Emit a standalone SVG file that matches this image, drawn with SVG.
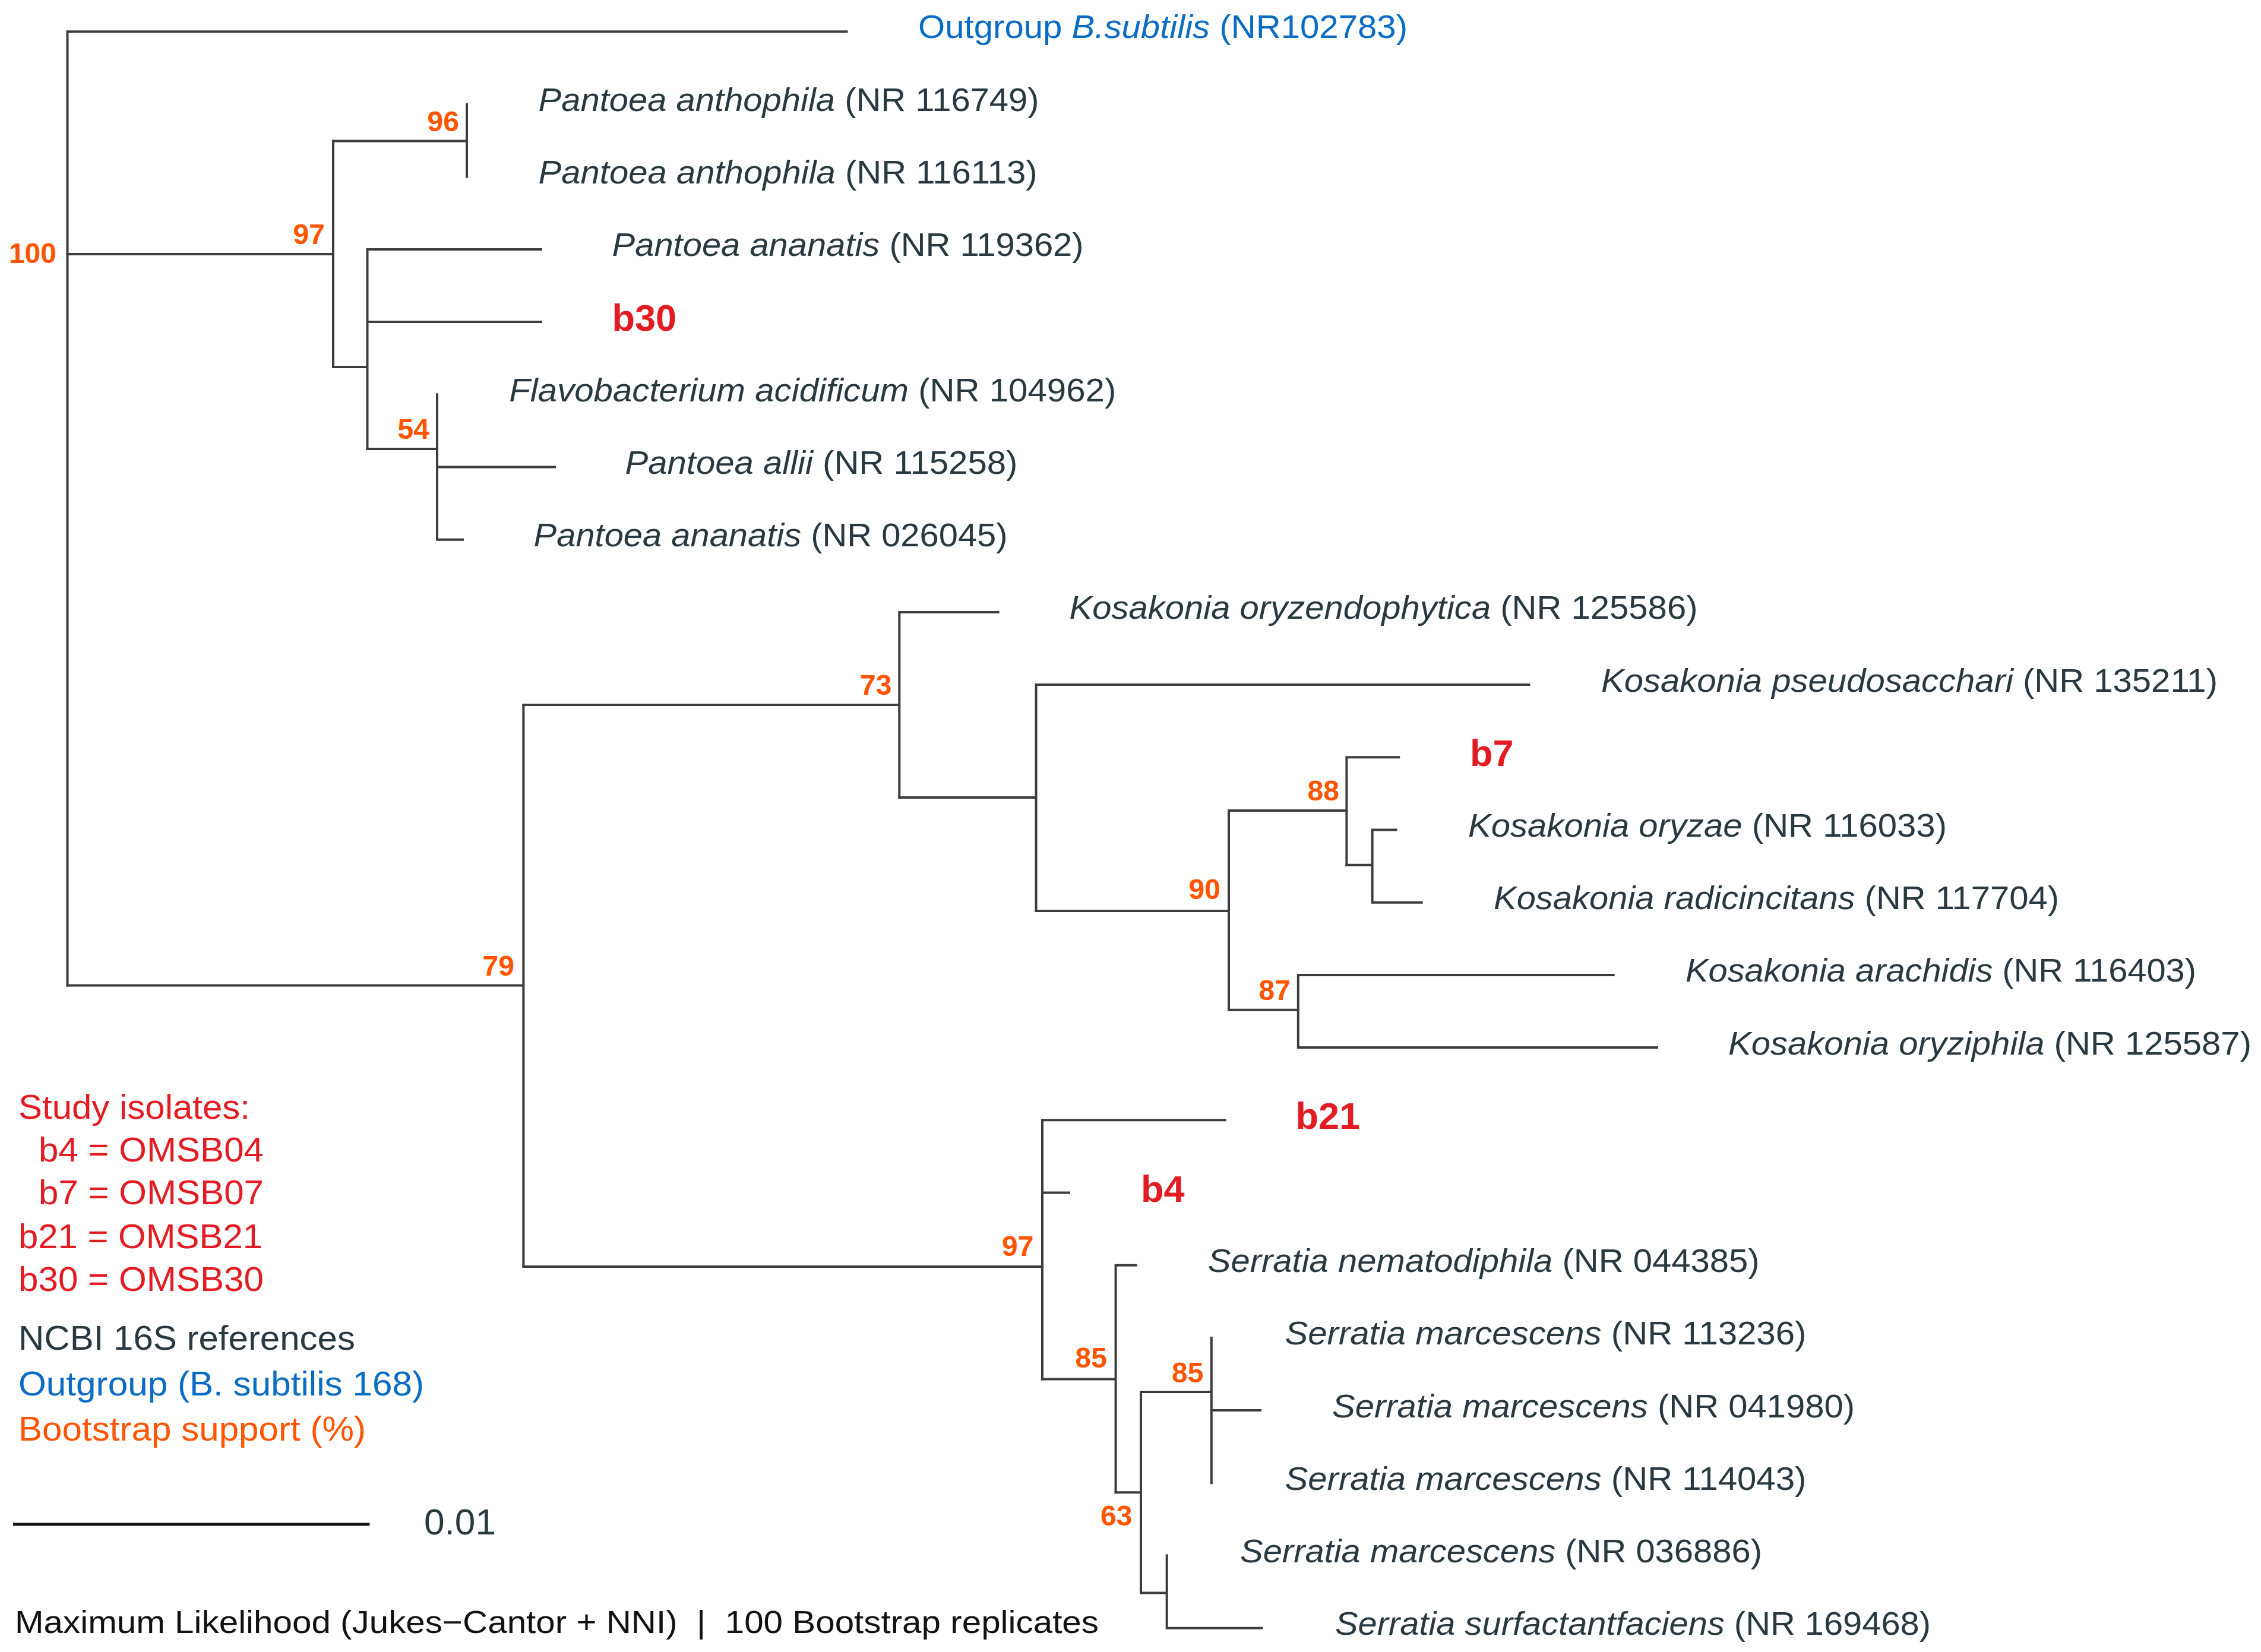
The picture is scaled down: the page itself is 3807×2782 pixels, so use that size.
<svg xmlns="http://www.w3.org/2000/svg" width="3807" height="2782" viewBox="0 0 3807 2782">
<style>
text{font-family:"Liberation Sans",Arial,Helvetica,sans-serif}
.lab{font-size:55px;fill:#29393f}
.it{font-style:italic}
.iso{font-size:63px;font-weight:bold;fill:#e31b23}
.bs{font-size:48px;font-weight:bold;fill:#ff5500;text-anchor:end}
.leg{font-size:57px}
.red{fill:#e31b23}
.blue{fill:#0a6cc4}
.orange{fill:#ff5500}
.dark{fill:#29393f}
.br{stroke:#3c3c3c;stroke-width:4;fill:none;stroke-linecap:square}
</style>
<rect width="3807" height="2782" fill="#ffffff"/>
<g id="connectors">
<path class="br" d="M113.5 53.3V1659.4 M113.5 53.3H1425.5"/>
<path class="br" d="M113.5 428H561 M561 237.6V618"/>
<path class="br" d="M561 237.6H786 M786 175.5V297.7"/>
<path class="br" d="M561 618H618.5 M618.5 419.9V756 M618.5 419.9H911 M618.5 542.1H911"/>
<path class="br" d="M618.5 756H736 M736 664.3V908.7 M736 786.5H934 M736 908.7H779"/>
<path class="br" d="M113.5 1659.4H881.4 M881.4 1187V2133"/>
<path class="br" d="M881.4 1187H1514.3 M1514.3 1030.9V1343 M1514.3 1030.9H1680.6"/>
<path class="br" d="M1514.3 1343H1744.5 M1744.5 1153.1V1534 M1744.5 1153.1H2574.4"/>
<path class="br" d="M1744.5 1534H2069 M2069 1365V1700.7"/>
<path class="br" d="M2069 1365H2267.4 M2267.4 1275.3V1456.8 M2267.4 1275.3H2355.3"/>
<path class="br" d="M2267.4 1456.8H2310.6 M2310.6 1397.5V1519.7 M2310.6 1397.5H2350.5 M2310.6 1519.7H2393.7"/>
<path class="br" d="M2069 1700.7H2185.8 M2185.8 1641.9V1764.1 M2185.8 1641.9H2716.7 M2185.8 1764.1H2790"/>
<path class="br" d="M881.4 2133H1755 M1755 1886.3V2322.5 M1755 1886.3H2062.8 M1755 2008.5H1800"/>
<path class="br" d="M1755 2322.5H1878.6 M1878.6 2130.7V2513.3 M1878.6 2130.7H1912.5"/>
<path class="br" d="M1878.6 2513.3H1921 M1921 2344V2682.4"/>
<path class="br" d="M1921 2344H2039.8 M2039.8 2252.9V2497.3 M2039.8 2375.1H2122"/>
<path class="br" d="M1921 2682.4H1964.7 M1964.7 2619.5V2741.7 M1964.7 2741.7H2124.6"/>
</g>
<g id="leaf-outgroup"><text class="lab blue" x="1546" y="63.6" textLength="824" lengthAdjust="spacingAndGlyphs" style="fill:#0a6cc4">Outgroup <tspan class="it">B.subtilis</tspan> (NR102783)</text></g>
<g id="leaf-pa116749"><text class="lab" x="906.6" y="187" textLength="843" lengthAdjust="spacingAndGlyphs"><tspan class="it">Pantoea anthophila</tspan> (NR 116749)</text></g>
<g id="leaf-pa116113"><text class="lab" x="906.6" y="309.2" textLength="840" lengthAdjust="spacingAndGlyphs"><tspan class="it">Pantoea anthophila</tspan> (NR 116113)</text></g>
<g id="leaf-pan119362"><text class="lab" x="1030.6" y="431.4" textLength="794" lengthAdjust="spacingAndGlyphs"><tspan class="it">Pantoea ananatis</tspan> (NR 119362)</text></g>
<g id="leaf-b30"><text class="iso" x="1030.6" y="557">b30</text></g>
<g id="leaf-fa104962"><text class="lab" x="857.3" y="675.8" textLength="1022" lengthAdjust="spacingAndGlyphs"><tspan class="it">Flavobacterium acidificum</tspan> (NR 104962)</text></g>
<g id="leaf-pal115258"><text class="lab" x="1052.4" y="798" textLength="661" lengthAdjust="spacingAndGlyphs"><tspan class="it">Pantoea allii</tspan> (NR 115258)</text></g>
<g id="leaf-pan026045"><text class="lab" x="898.6" y="920.2" textLength="798" lengthAdjust="spacingAndGlyphs"><tspan class="it">Pantoea ananatis</tspan> (NR 026045)</text></g>
<g id="leaf-kory125586"><text class="lab" x="1800.5" y="1042.4" textLength="1058" lengthAdjust="spacingAndGlyphs"><tspan class="it">Kosakonia oryzendophytica</tspan> (NR 125586)</text></g>
<g id="leaf-kps135211"><text class="lab" x="2696" y="1164.6" textLength="1038" lengthAdjust="spacingAndGlyphs"><tspan class="it">Kosakonia pseudosacchari</tspan> (NR 135211)</text></g>
<g id="leaf-b7"><text class="iso" x="2475" y="1290.3">b7</text></g>
<g id="leaf-koz116033"><text class="lab" x="2472" y="1409" textLength="806" lengthAdjust="spacingAndGlyphs"><tspan class="it">Kosakonia oryzae</tspan> (NR 116033)</text></g>
<g id="leaf-krad117704"><text class="lab" x="2515" y="1531.2" textLength="952" lengthAdjust="spacingAndGlyphs"><tspan class="it">Kosakonia radicincitans</tspan> (NR 117704)</text></g>
<g id="leaf-kar116403"><text class="lab" x="2838" y="1653.4" textLength="860" lengthAdjust="spacingAndGlyphs"><tspan class="it">Kosakonia arachidis</tspan> (NR 116403)</text></g>
<g id="leaf-kozp125587"><text class="lab" x="2910" y="1775.6" textLength="881" lengthAdjust="spacingAndGlyphs"><tspan class="it">Kosakonia oryziphila</tspan> (NR 125587)</text></g>
<g id="leaf-b21"><text class="iso" x="2181.5" y="1901.3">b21</text></g>
<g id="leaf-b4"><text class="iso" x="1921" y="2023.5">b4</text></g>
<g id="leaf-sn044385"><text class="lab" x="2033.7" y="2142.2" textLength="929" lengthAdjust="spacingAndGlyphs"><tspan class="it">Serratia nematodiphila</tspan> (NR 044385)</text></g>
<g id="leaf-sm113236"><text class="lab" x="2163.4" y="2264.4" textLength="878" lengthAdjust="spacingAndGlyphs"><tspan class="it">Serratia marcescens</tspan> (NR 113236)</text></g>
<g id="leaf-sm041980"><text class="lab" x="2243" y="2386.6" textLength="880" lengthAdjust="spacingAndGlyphs"><tspan class="it">Serratia marcescens</tspan> (NR 041980)</text></g>
<g id="leaf-sm114043"><text class="lab" x="2163.4" y="2508.8" textLength="878" lengthAdjust="spacingAndGlyphs"><tspan class="it">Serratia marcescens</tspan> (NR 114043)</text></g>
<g id="leaf-sm036886"><text class="lab" x="2088" y="2631" textLength="879" lengthAdjust="spacingAndGlyphs"><tspan class="it">Serratia marcescens</tspan> (NR 036886)</text></g>
<g id="leaf-ss169468"><text class="lab" x="2248" y="2753.2" textLength="1003" lengthAdjust="spacingAndGlyphs"><tspan class="it">Serratia surfactantfaciens</tspan> (NR 169468)</text></g>
<g id="node-100"><text class="bs" x="95" y="443">100</text></g>
<g id="node-97a"><text class="bs" x="547" y="411">97</text></g>
<g id="node-96"><text class="bs" x="773" y="221">96</text></g>
<g id="node-54"><text class="bs" x="723" y="739">54</text></g>
<g id="node-79"><text class="bs" x="866" y="1643">79</text></g>
<g id="node-73"><text class="bs" x="1501.5" y="1170">73</text></g>
<g id="node-90"><text class="bs" x="2055" y="1514">90</text></g>
<g id="node-88"><text class="bs" x="2255" y="1348">88</text></g>
<g id="node-87"><text class="bs" x="2173" y="1683.5">87</text></g>
<g id="node-97b"><text class="bs" x="1740.5" y="2115">97</text></g>
<g id="node-85a"><text class="bs" x="1864" y="2303">85</text></g>
<g id="node-85b"><text class="bs" x="2026.5" y="2328">85</text></g>
<g id="node-63"><text class="bs" x="1906.5" y="2569">63</text></g>
<g id="legend">
<text class="leg red" x="31" y="1883.6" textLength="390" lengthAdjust="spacingAndGlyphs">Study isolates:</text>
<text class="leg red" x="65" y="1956" textLength="379" lengthAdjust="spacingAndGlyphs">b4 = OMSB04</text>
<text class="leg red" x="65" y="2028" textLength="379" lengthAdjust="spacingAndGlyphs">b7 = OMSB07</text>
<text class="leg red" x="31" y="2102" textLength="411" lengthAdjust="spacingAndGlyphs">b21 = OMSB21</text>
<text class="leg red" x="31" y="2174.4" textLength="413" lengthAdjust="spacingAndGlyphs">b30 = OMSB30</text>
<text class="leg dark" x="31" y="2273" textLength="567" lengthAdjust="spacingAndGlyphs">NCBI 16S references</text>
<text class="leg blue" x="31" y="2350" textLength="683" lengthAdjust="spacingAndGlyphs">Outgroup (B. subtilis 168)</text>
<text class="leg orange" x="31" y="2426.4" textLength="585" lengthAdjust="spacingAndGlyphs">Bootstrap support (%)</text>
</g>
<g id="scale-bar">
<line x1="22" y1="2567" x2="622.4" y2="2567" stroke="#111111" stroke-width="5"/>
<text x="714" y="2584" font-size="62" fill="#29393f" textLength="121" lengthAdjust="spacingAndGlyphs">0.01</text>
</g>
<g id="caption">
<text x="25" y="2750" font-size="53" fill="#111111" textLength="1825" lengthAdjust="spacingAndGlyphs" xml:space="preserve">Maximum Likelihood (Jukes−Cantor + NNI)  |  100 Bootstrap replicates</text>
</g>
</svg>
